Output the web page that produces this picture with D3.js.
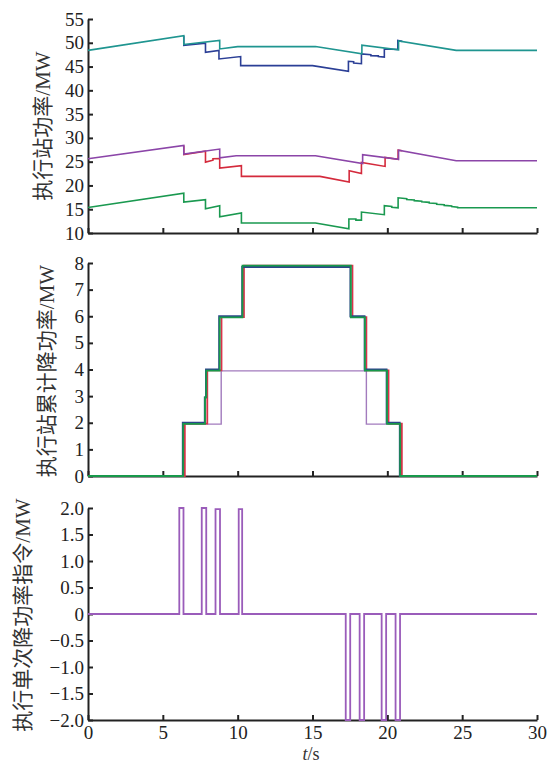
<!DOCTYPE html>
<html>
<head>
<meta charset="utf-8">
<script src="https://cdn.jsdelivr.net/npm/d3@7"></script>
<style>
  html, body { margin: 0; padding: 0; background: #fff; }
  svg { display: block; }
  .tick text { font-family: "Liberation Serif", "Times New Roman", serif; font-size: 19px; fill: #222; }
  .lbl { font-family: "Liberation Serif", "Noto Sans CJK SC", serif; font-size: 21px; fill: #333; }
</style>
</head>
<body>
<svg id="chart" width="548" height="765"></svg>
<script>
// time axis ticks (s)
const timeTicks = [0, 5, 10, 15, 20, 25, 30];

// panel 1: station power (MW), [t, value] pairs
const powerTeal = [[0,48.4],[6.4,51.5],[6.4,49.65],[8.8,50.5],[8.8,48.7],[10.0,49.2],[15.2,49.2],[18.3,47.7],[18.3,49.5],[20.75,48.5],[20.75,50.4],[24.6,48.4],[30,48.4]];
const powerBlue = [[6.4,51.5],[6.4,49.45],[7.85,49.9],[7.85,48.0],[8.75,48.4],[8.75,46.6],[10.2,47.1],[10.2,45.2],[15.0,45.2],[17.4,44.0],[17.4,46.1],[17.75,46.0],[17.75,45.75],[18.27,45.6],[18.27,47.65],[18.9,47.5],[18.9,47.3],[19.4,47.25],[19.4,47.1],[19.8,47.0],[19.8,48.7],[20.7,48.6],[20.7,50.5],[21.0,50.3]];
const powerPurple = [[0,25.6],[6.4,28.4],[6.4,26.6],[8.8,27.65],[8.8,25.8],[9.9,26.25],[15.2,26.25],[18.35,24.6],[18.35,26.45],[20.75,25.5],[20.75,27.4],[24.6,25.2],[30,25.2]];
const powerRed = [[6.4,28.4],[6.4,26.5],[7.85,27.2],[7.85,24.9],[8.35,25.3],[8.35,25.6],[8.8,25.65],[8.8,23.65],[10.25,24.15],[10.25,21.9],[15.5,21.9],[17.45,20.7],[17.45,23.1],[18.27,22.5],[18.27,24.85],[19.85,24.0],[19.85,25.9],[20.72,25.5],[20.72,27.4],[21.0,27.3]];
const powerGreen = [[0,15.35],[6.4,18.35],[6.4,16.5],[7.85,17.0],[7.85,15.1],[8.8,15.75],[8.8,13.4],[10.25,14.2],[10.25,12.1],[15.2,12.1],[17.43,10.9],[17.43,12.95],[17.9,12.95],[17.9,12.7],[18.27,12.7],[18.27,14.4],[19.8,13.85],[19.8,15.75],[20.3,15.6],[20.3,15.4],[20.72,15.3],[20.72,17.4],[21.3,17.2],[21.3,17.05],[21.8,16.95],[21.8,16.8],[22.3,16.7],[22.3,16.55],[22.8,16.45],[22.8,16.3],[23.3,16.2],[23.3,16.05],[23.8,15.95],[23.8,15.8],[24.3,15.7],[24.3,15.55],[24.7,15.4],[24.7,15.3],[30,15.3]];
const powerTicks = [10, 15, 20, 25, 30, 35, 40, 45, 50, 55];

// panel 2: cumulative reduction (MW)
const cumPurple = [[0,0],[6.35,0],[6.35,1.95],[8.9,1.95],[8.9,3.95],[18.6,3.95],[18.6,1.95],[20.9,1.95],[20.9,0],[30,0]];
const cumRed = [[0,0],[6.47,0],[6.47,1.97],[7.97,1.97],[7.97,3.97],[8.92,3.97],[8.92,5.97],[10.42,5.97],[10.42,7.9],[17.67,7.9],[17.67,5.97],[18.6,5.97],[18.6,3.97],[20.08,3.97],[20.08,1.97],[20.97,1.97],[20.97,0],[30,0]];
const cumBlue = [[0,0],[6.33,0],[6.33,2.0],[7.8,2.0],[7.8,2.95],[7.88,2.95],[7.88,4.0],[8.76,4.0],[8.76,6.0],[10.3,6.0],[10.3,7.85],[17.53,7.85],[17.53,6.0],[18.48,6.0],[18.48,4.0],[19.95,4.0],[19.95,2.0],[20.83,2.0],[20.83,0],[30,0]];
const cumGreen = [[0,0],[6.36,0],[6.36,1.96],[7.82,1.96],[7.82,2.95],[7.9,2.95],[7.9,3.96],[8.8,3.96],[8.8,5.96],[10.32,5.96],[10.32,7.9],[17.56,7.9],[17.56,5.96],[18.5,5.96],[18.5,3.96],[19.98,3.96],[19.98,1.96],[20.86,1.96],[20.86,0],[30,0]];
const cumTicks = [0, 1, 2, 3, 4, 5, 6, 7, 8];

// panel 3: single reduction command (MW)
const command = [[0,0],[6.1,0],[6.1,2],[6.38,2],[6.38,0],[7.6,0],[7.6,2],[7.9,2],[7.9,0],[8.52,0],[8.52,1.98],[8.82,1.98],[8.82,0],[10.07,0],[10.07,1.98],[10.3,1.98],[10.3,0],[17.22,0],[17.22,-2],[17.52,-2],[17.52,0],[18.15,0],[18.15,-2],[18.45,-2],[18.45,0],[19.62,0],[19.62,-2],[19.92,-2],[19.92,0],[20.55,0],[20.55,-2],[20.85,-2],[20.85,0],[30,0]];
const commandTicks = [-2, -1.5, -1, -0.5, 0, 0.5, 1, 1.5, 2];

const svg = d3.select('#chart');
const x = d3.scaleLinear().domain([0, 30]).range([88, 537]);
const axisColor = '#222';

function panel(yDomain, yRange, ticks, fmt, showX, series, label, labelPos) {
  const y = d3.scaleLinear().domain(yDomain).range(yRange);

  const xa = svg.append('g')
    .attr('transform', `translate(0,${yRange[0]})`)
    .call(d3.axisBottom(x).tickValues(timeTicks).tickSize(-5).tickSizeOuter(0).tickPadding(6)
      .tickFormat(showX ? d3.format('d') : ''));
  const ya = svg.append('g')
    .attr('transform', `translate(${x(0)},0)`)
    .call(d3.axisLeft(y).tickValues(ticks).tickSize(-5).tickSizeOuter(0).tickPadding(4).tickFormat(fmt));
  [xa, ya].forEach(a => {
    a.select('.domain').attr('stroke', axisColor).attr('stroke-width', 2);
    a.selectAll('.tick line').attr('stroke', axisColor).attr('stroke-width', 2);
  });

  const line = d3.line().x(d => x(d[0])).y(d => y(d[1]));
  series.forEach(s => {
    svg.append('path')
      .datum(s.data)
      .attr('d', line)
      .attr('fill', 'none')
      .attr('stroke', s.color)
      .attr('stroke-width', s.width || 1.6)
      .attr('stroke-linejoin', 'miter');
  });

  svg.append('text')
    .attr('class', 'lbl')
    .attr('transform', `translate(${labelPos[0]},${labelPos[1]}) rotate(-90)`)
    .attr('text-anchor', 'middle')
    .attr('dominant-baseline', 'central')
    .text(label);
}

panel([10, 55], [233, 19], powerTicks, d3.format('d'), false, [
  { data: powerBlue, color: '#2b3f96' },
  { data: powerTeal, color: '#1f9590' },
  { data: powerRed, color: '#d42a3c' },
  { data: powerPurple, color: '#8b45a8' },
  { data: powerGreen, color: '#1a9950' }
], '执行站功率/MW', [43, 126]);

panel([0, 8], [476, 263], cumTicks, d3.format('d'), false, [
  { data: cumPurple, color: '#a27bbd', width: 1.4 },
  { data: cumRed, color: '#d9334a', width: 1.8 },
  { data: cumBlue, color: '#2c4589', width: 1.8 },
  { data: cumGreen, color: '#17994a', width: 1.8 }
], '执行站累计降功率/MW', [47, 371]);

panel([-2, 2], [720, 508], commandTicks, d => d === 0 ? '0' : d3.format('.1f')(d), true, [
  { data: command, color: '#9a5cba', width: 1.8 }
], '执行单次降功率指令/MW', [23, 615]);

// x axis title
const xt = svg.append('text')
  .attr('class', 'lbl')
  .attr('x', 311)
  .attr('y', 760)
  .style('font-size', '18px')
  .attr('text-anchor', 'middle');
xt.append('tspan').attr('font-style', 'italic').text('t');
xt.append('tspan').text('/s');
</script>
</body>
</html>
